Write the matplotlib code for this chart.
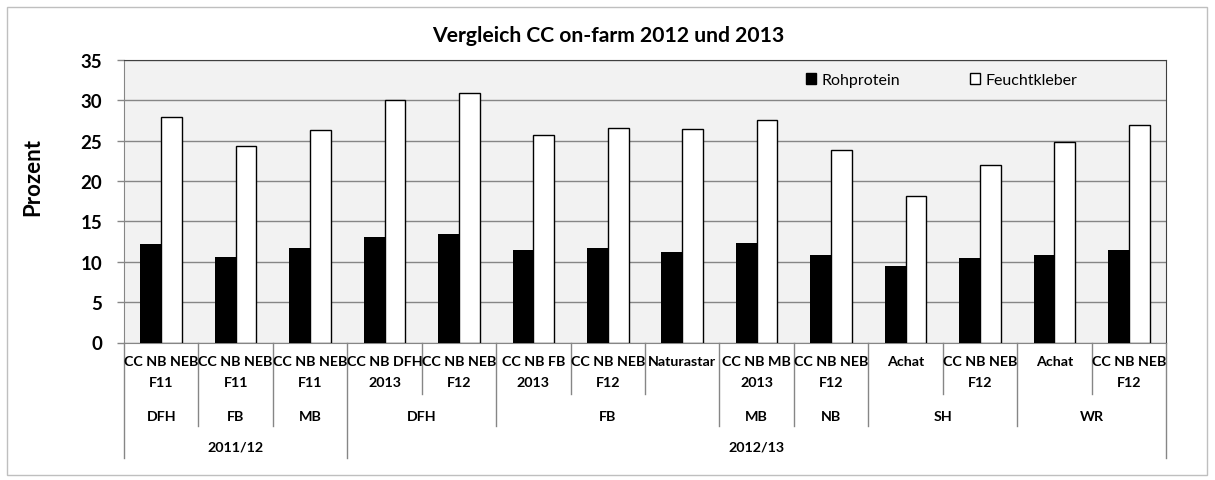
import matplotlib
matplotlib.use("Agg")
import matplotlib.pyplot as plt
from matplotlib.patches import Patch, Rectangle

# data
sorten = ["CC NB NEB\nF11", "CC NB NEB\nF11", "CC NB NEB\nF11",
          "CC NB DFH\n2013", "CC NB NEB\nF12",
          "CC NB FB\n2013", "CC NB NEB\nF12", "Naturastar",
          "CC NB MB\n2013", "CC NB NEB\nF12",
          "Achat", "CC NB NEB\nF12", "Achat", "CC NB NEB\nF12"]
gruppen = ["DFH", "FB", "MB", "DFH", "DFH", "FB", "FB", "FB",
           "MB", "NB", "SH", "SH", "WR", "WR"]
jahre = ["2011/12"] * 3 + ["2012/13"] * 11
rohprotein = [12.2, 10.6, 11.7, 13.1, 13.4, 11.5, 11.7, 11.2, 12.3, 10.9, 9.5, 10.5, 10.9, 11.5]
feuchtkleber = [28.0, 24.4, 26.3, 30.1, 30.9, 25.7, 26.6, 26.4, 27.6, 23.8, 18.2, 22.0, 24.9, 26.9]

plt.rcParams['font.family'] = ['Lato', 'DejaVu Sans']

W, H = 1215, 481
fig = plt.figure(figsize=(W / 100, H / 100), dpi=100)

# plot area in pixels
x0, x1, y_top, y_bot = 124, 1166, 61, 343.5
ax = fig.add_axes([x0 / W, 1 - y_bot / H, (x1 - x0) / W, (y_bot - y_top) / H])

# outer chart frame
fig.patches.append(Rectangle((7 / W, 1 - 476 / H), 1200 / W, 468 / H,
                             transform=fig.transFigure, fill=False,
                             edgecolor='#BFBFBF', lw=1))

n = len(sorten)
xs = list(range(n))
bw = 0.28
ax.bar(xs, rohprotein, width=-bw, align='edge', color='black', zorder=3)
ax.bar(xs, feuchtkleber, width=bw, align='edge', color='white',
       edgecolor='black', lw=1, zorder=3)

ax.set_facecolor('#F2F2F2')
ax.set_xlim(-0.5, n - 0.5)
ax.set_ylim(0, 35)
ax.set_yticks(range(0, 36, 5))
ax.yaxis.grid(True, color='#868686', lw=1, zorder=0)
ax.set_axisbelow(True)
ax.set_xticks([])
ax.tick_params(axis='y', length=5, width=1, color='#868686', pad=10.5,
               labelsize=13.5)
for lab in ax.get_yticklabels():
    lab.set_fontweight('bold')
for s in ['left', 'bottom']:
    ax.spines[s].set_color('#868686')
for s in ['top', 'right']:
    ax.spines[s].set_color('#404040')

ax.set_ylabel('Prozent', fontsize=16, fontweight='bold')
ax.yaxis.set_label_coords(43 / W, 1 - 177 / H, transform=fig.transFigure)

fig.text(608 / W, 1 - 36 / H, 'Vergleich CC on-farm 2012 und 2013',
         ha='center', va='center', fontsize=15.2, fontweight='bold')

handles = [Patch(facecolor='black', edgecolor='black', label='Rohprotein'),
           Patch(facecolor='white', edgecolor='black', label='Feuchtkleber')]
ax.legend(handles=handles, ncol=2, frameon=False, loc='center left',
          bbox_to_anchor=((806 - x0) / (x1 - x0), (y_bot - 81) / (y_bot - y_top)),
          borderpad=0, borderaxespad=0, handlelength=0.65, handleheight=0.65,
          handletextpad=0.3, columnspacing=4.4, fontsize=11.5)

# multi-level category axis
tr = ax.get_xaxis_transform()
def ay(py):
    return (y_bot - py) / (y_bot - y_top)

fs = 10.3
for i, name in enumerate(sorten):
    lines = name.split('\n')
    ax.text(i, ay(362), lines[0], transform=tr, ha='center', va='center',
            fontsize=fs, fontweight='bold', clip_on=False)
    if len(lines) > 1:
        ax.text(i, ay(383), lines[1], transform=tr, ha='center', va='center',
                fontsize=fs, fontweight='bold', clip_on=False)

def runs(keys):
    out = []
    start = 0
    for i in range(1, n + 1):
        if i == n or keys[i] != keys[start]:
            out.append((start, i - 1, keys[start]))
            start = i
    return out

grp_keys = [(j, g) for j, g in zip(jahre, gruppen)]
for a, b, k in runs(grp_keys):
    ax.text((a + b) / 2, ay(417), k[1], transform=tr, ha='center', va='center',
            fontsize=fs, fontweight='bold', clip_on=False)
for a, b, k in runs(jahre):
    ax.text((a + b) / 2, ay(448), k, transform=tr, ha='center', va='center',
            fontsize=fs, fontweight='bold', clip_on=False)

for bnd in range(n + 1):
    if bnd == 0 or bnd == n or jahre[bnd] != jahre[bnd - 1]:
        end = 459
    elif gruppen[bnd] != gruppen[bnd - 1]:
        end = 427
    else:
        end = 395
    ax.plot([bnd - 0.5, bnd - 0.5], [0, ay(end)], transform=tr,
            color='#868686', lw=1, clip_on=False)

fig.savefig('out.png', dpi=100)
